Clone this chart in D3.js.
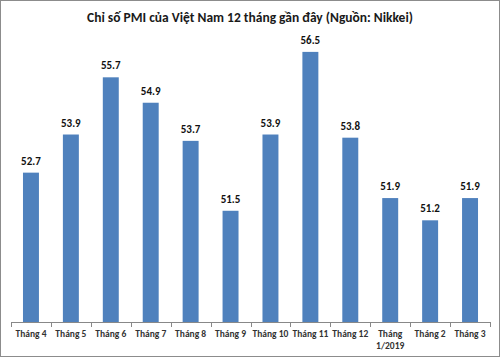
<!DOCTYPE html>
<html><head><meta charset="utf-8">
<script src="https://cdn.jsdelivr.net/npm/d3@7"></script>
<style>body{margin:0;background:#fff;}svg{display:block;}</style>
</head><body>
<script>
const categories = ["Tháng 4","Tháng 5","Tháng 6","Tháng 7","Tháng 8","Tháng 9","Tháng 10","Tháng 11","Tháng 12","Tháng 1/2019","Tháng 2","Tháng 3"];
const categoryLines = [["Tháng 4"],["Tháng 5"],["Tháng 6"],["Tháng 7"],["Tháng 8"],["Tháng 9"],["Tháng 10"],["Tháng 11"],["Tháng 12"],["Tháng","1/2019"],["Tháng 2"],["Tháng 3"]];
const values = [52.7,53.9,55.7,54.9,53.7,51.5,53.9,56.5,53.8,51.9,51.2,51.9];
const title = "Chỉ số PMI của Việt Nam 12 tháng gần đây (Nguồn: Nikkei)";

const W=500,H=357;
const svg=d3.select("body").append("svg").attr("width",W).attr("height",H);
svg.append("rect").attr("x",0.5).attr("y",0.5).attr("width",W-1).attr("height",H-1)
  .attr("fill","#fff").attr("stroke","#8c8c8c").attr("stroke-width",1);

const font="Carlito, 'Open Sans', 'Liberation Sans', sans-serif";
svg.append("text").attr("x",250).attr("y",22).attr("text-anchor","middle")
  .attr("font-family",font).attr("font-weight","bold").attr("font-size",13.5).attr("fill","#1a1a1a").text(title);

const x=d3.scaleBand().domain(categories).range([11,490]).paddingInner(0.6).paddingOuter(0.3);
const y=d3.scaleLinear().domain([48,57]).range([322,36]);

svg.selectAll("rect.bar").data(values).join("rect").attr("class","bar")
  .attr("x",(d,i)=>x(categories[i])).attr("width",x.bandwidth())
  .attr("y",d=>y(d)).attr("height",d=>y(48)-y(d)).attr("fill","#4f81bd");

svg.selectAll("text.val").data(values).join("text").attr("class","val")
  .attr("x",(d,i)=>x(categories[i])+x.bandwidth()/2).attr("y",d=>y(d)-8)
  .attr("text-anchor","middle").attr("font-family",font).attr("font-weight","bold")
  .attr("font-size",11).attr("fill","#111").text(d=>d.toFixed(1));

// axis
const step=(490-11)/categories.length;
const ax=svg.append("g");
ax.append("line").attr("x1",11).attr("x2",490).attr("y1",322.5).attr("y2",322.5).attr("stroke","#888");
d3.range(categories.length+1).forEach(i=>{
  const xx=Math.round(11+i*step)+0.5;
  ax.append("line").attr("x1",xx).attr("x2",xx).attr("y1",322).attr("y2",327).attr("stroke","#888");
});
categories.forEach((c,i)=>{
  const t=svg.append("text").attr("x",x(c)+x.bandwidth()/2).attr("y",337).attr("text-anchor","middle")
    .attr("font-family",font).attr("font-weight","bold").attr("font-size",9.5).attr("fill","#333");
  categoryLines[i].forEach((l,j)=>t.append("tspan").attr("x",x(c)+x.bandwidth()/2).attr("dy",j?12:0).text(l));
});
</script>
</body></html>
